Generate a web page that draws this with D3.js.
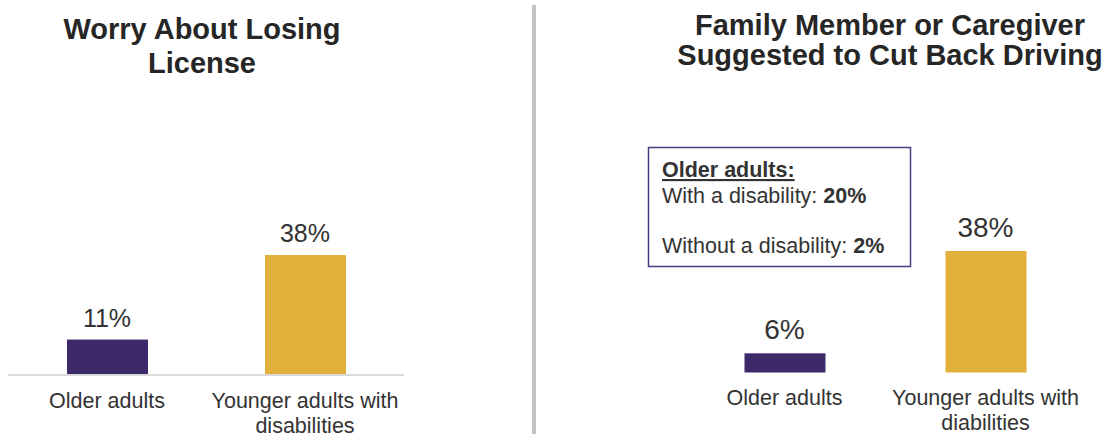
<!DOCTYPE html>
<html>
<head>
<meta charset="utf-8">
<script src="https://cdn.jsdelivr.net/npm/d3@7"></script>
<style>
  body { margin: 0; background: #fff; }
  svg { display: block; font-family: "Liberation Sans", Arial, sans-serif; }
</style>
</head>
<body>
<svg width="1107" height="434"></svg>
<script>
// left panel
var worryTitle = ["Worry About Losing", "License"];
var worryCategories = ["Older adults", "Younger adults with disabilities"];
var worryCatLines = [["Older adults"], ["Younger adults with", "disabilities"]];
var worryValues = [11, 38];

// right panel
var cutTitle = ["Family Member or Caregiver", "Suggested to Cut Back Driving"];
var cutCategories = ["Older adults", "Younger adults with diabilities"];
var cutCatLines = [["Older adults"], ["Younger adults with", "diabilities"]];
var cutValues = [6, 38];

// callout box
var noteHeading = "Older adults:";
var noteRows = [
    { label: "With a disability: ", value: "20%" },
    { label: "", value: "" },
    { label: "Without a disability: ", value: "2%" }
];

var colors = ["#3e2a6a", "#e1b13b"];
var textColor = "#333333";

var svg = d3.select("svg");

// divider between the two panels
svg.append("rect")
    .attr("x", 532).attr("y", 5)
    .attr("width", 4).attr("height", 429)
    .attr("fill", "#c3c3c3");

function panel(opts) {
    var g = svg.append("g");

    var x = d3.scalePoint()
        .domain(opts.categories)
        .range(opts.xRange)
        .padding(0.5);

    var y = d3.scaleLinear()
        .domain([0, 38])
        .range([opts.base, opts.top38]);

    // title
    var title = g.append("text")
        .attr("text-anchor", "middle")
        .style("font-weight", "bold")
        .style("font-size", opts.titleSize + "px")
        .attr("fill", "#262626");
    title.selectAll("tspan")
        .data(opts.title)
        .enter().append("tspan")
        .attr("x", opts.titleX)
        .attr("y", function (d, i) { return opts.titleY + i * opts.titleGap; })
        .text(function (d) { return d; });

    if (opts.axis) {
        g.append("line")
            .attr("x1", opts.xRange[0]).attr("x2", opts.xRange[1])
            .attr("y1", opts.base + 1).attr("y2", opts.base + 1)
            .attr("stroke", "#d9d9d9")
            .attr("stroke-width", 2);
    }

    var bars = g.selectAll(".bar")
        .data(opts.values)
        .enter().append("g");

    bars.append("rect")
        .attr("x", function (d, i) { return x(opts.categories[i]) - 40; })
        .attr("y", function (d) { return y(d); })
        .attr("width", 81)
        .attr("height", function (d) { return y(0) - y(d); })
        .attr("fill", function (d, i) { return colors[i]; });

    bars.append("text")
        .attr("x", function (d, i) { return x(opts.categories[i]); })
        .attr("y", function (d) { return y(d) - opts.labelGap; })
        .attr("text-anchor", "middle")
        .style("font-size", opts.labelSize + "px")
        .attr("fill", textColor)
        .text(function (d) { return d + "%"; });

    var cat = bars.append("text")
        .attr("text-anchor", "middle")
        .style("font-size", "21.5px")
        .attr("fill", textColor);
    cat.selectAll("tspan")
        .data(function (d, i) {
            return opts.catLines[i].map(function (t) { return { t: t, c: opts.categories[i] }; });
        })
        .enter().append("tspan")
        .attr("x", function (d) { return x(d.c); })
        .attr("y", function (d, j) { return opts.base + opts.catOffset + j * 25; })
        .text(function (d) { return d.t; });
}

panel({
    title: worryTitle, titleX: 202, titleY: 39, titleGap: 34, titleSize: 29,
    categories: worryCategories, catLines: worryCatLines, values: worryValues,
    xRange: [8, 404], base: 374, top38: 255, axis: true,
    labelGap: 13, labelSize: 25, catOffset: 34
});

panel({
    title: cutTitle, titleX: 890, titleY: 35, titleGap: 30, titleSize: 29,
    categories: cutCategories, catLines: cutCatLines, values: cutValues,
    xRange: [684, 1086], base: 372.5, top38: 251, axis: false,
    labelGap: 14.5, labelSize: 28, catOffset: 32
});

// callout
var note = svg.append("g");
note.append("rect")
    .attr("x", 648.5).attr("y", 147.5)
    .attr("width", 262).attr("height", 119)
    .attr("fill", "none")
    .attr("stroke", "#4b3a80")
    .attr("stroke-width", 1.5);

note.append("text")
    .attr("x", 662).attr("y", 177)
    .style("font-size", "21.5px")
    .style("font-weight", "bold")
    .style("text-decoration", "underline")
    .attr("fill", textColor)
    .text(noteHeading);

var rows = note.selectAll(".row")
    .data(noteRows)
    .enter().append("text")
    .attr("x", 662)
    .attr("y", function (d, i) { return 203 + i * 25; })
    .style("font-size", "21.5px")
    .attr("fill", textColor);
rows.append("tspan").text(function (d) { return d.label; });
rows.append("tspan").style("font-weight", "bold").text(function (d) { return d.value; });
</script>
</body>
</html>
